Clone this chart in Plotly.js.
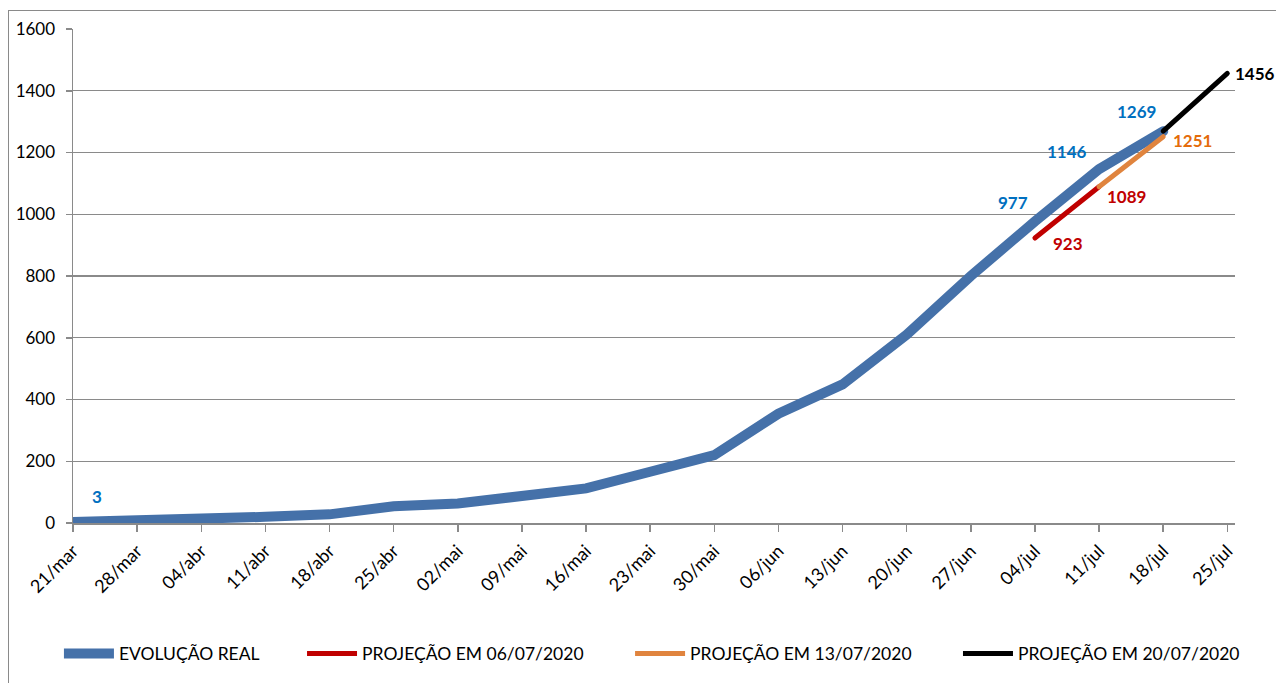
<!DOCTYPE html>
<html>
<head>
<meta charset="utf-8">
<script src="https://cdn.plot.ly/plotly-3.0.1.min.js"></script>
<style>
html,body{margin:0;padding:0;overflow:hidden;background:#fff;}
#chart{position:absolute;left:0;top:0;width:1276px;height:683px;}
#frame{position:absolute;left:8px;top:10px;width:1300px;height:720px;border:1.5px solid #8a8a8a;pointer-events:none;}
.scatterlayer path.js-line{stroke-linecap:round;}
</style>
</head>
<body>
<div id="chart"></div>
<div id="frame"></div>
<script>
const categories = ["21/mar","28/mar","04/abr","11/abr","18/abr","25/abr","02/mai","09/mai","16/mai","23/mai","30/mai","06/jun","13/jun","20/jun","27/jun","04/jul","11/jul","18/jul","25/jul"];
const realValues = [3, 6, 14, 20, 28, 54, 63, 84, 112, 166, 220, 354, 449, 610, 800, 977, 1146, 1269];
const proj0607Cats = ["04/jul","11/jul"];
const proj0607Vals = [923, 1089];
const proj1307Cats = ["11/jul","18/jul"];
const proj1307Vals = [1089, 1251];
const proj2007Cats = ["18/jul","25/jul"];
const proj2007Vals = [1269, 1456];
const seriesNames = ["EVOLUÇÃO REAL","PROJEÇÃO EM 06/07/2020","PROJEÇÃO EM 13/07/2020","PROJEÇÃO EM 20/07/2020"];
const yTicks = [0,200,400,600,800,1000,1200,1400,1600];

const FONT = "Lato, 'Open Sans', sans-serif";
const realCats = categories.slice(0, realValues.length);

const traces = [
  {x: realCats, y: realValues, name: seriesNames[0], mode: "lines", line: {color: "#4571A9", width: 10}, legend: "legend"},
  {x: proj0607Cats, y: proj0607Vals, name: seriesNames[1], mode: "lines", line: {color: "#C00000", width: 5}, legend: "legend2"},
  {x: proj1307Cats, y: proj1307Vals, name: seriesNames[2], mode: "lines", line: {color: "#E0843E", width: 5}, legend: "legend3"},
  {x: proj2007Cats, y: proj2007Vals, name: seriesNames[3], mode: "lines", line: {color: "#000000", width: 5}, legend: "legend4"}
];

function lbl(cat, val, color, dx, dy){
  return {x: cat, y: val, xref: "x", yref: "y", text: String(val), showarrow: false,
    xshift: dx, yshift: dy, font: {family: FONT, size: 17, color: color, weight: "bold"}};
}
const annotations = [
  lbl(realCats[0], realValues[0], "#0070C0", 24, 26),
  lbl(realCats[15], realValues[15], "#0070C0", -22, 19),
  lbl(realCats[16], realValues[16], "#0070C0", -32, 18),
  lbl(realCats[17], realValues[17], "#0070C0", -27, 20),
  lbl(proj0607Cats[0], proj0607Vals[0], "#C00000", 33, -5),
  lbl(proj0607Cats[1], proj0607Vals[1], "#C00000", 27, -10),
  lbl(proj1307Cats[1], proj1307Vals[1], "#E46C0A", 29, -4),
  lbl(proj2007Cats[1], proj2007Vals[1], "#000000", 28, 0)
];

function leg(x){
  return {orientation: "h", x: x, xanchor: "left", y: -0.262, yanchor: "middle",
    font: {family: FONT, size: 17.5, color: "#000"}, itemwidth: 50, bgcolor: "rgba(0,0,0,0)"};
}

const layout = {
  width: 1276, height: 683,
  margin: {l: 73, r: 41, t: 29, b: 159},
  paper_bgcolor: "#ffffff", plot_bgcolor: "#ffffff",
  font: {family: FONT, size: 17, color: "#000"},
  showlegend: true,
  legend: leg(-0.0121),
  legend2: leg(0.1971),
  legend3: leg(0.4794),
  legend4: leg(0.7616),
  xaxis: {type: "category", categoryorder: "array", categoryarray: categories,
    range: [0, 18.12], tickmode: "array", tickvals: categories, ticktext: categories,
    tickangle: -45, ticks: "outside", ticklen: 7, tickcolor: "#8a8a8a", tickwidth: 1.5,
    showline: true, linecolor: "#8a8a8a", linewidth: 1.5, showgrid: false, zeroline: false,
    tickfont: {family: FONT, size: 18, color: "#000"}, ticklabelstandoff: 2, fixedrange: true},
  yaxis: {range: [0, 1600], tickmode: "array", tickvals: yTicks, ticks: "outside", ticklen: 6,
    tickcolor: "#8a8a8a", tickwidth: 1.5, showline: true, linecolor: "#8a8a8a", linewidth: 1.5,
    showgrid: true, gridcolor: "#8a8a8a", gridwidth: 1.4, zeroline: false,
    tickfont: {family: FONT, size: 17, color: "#000"}, ticklabelstandoff: 7, fixedrange: true},
  annotations: annotations
};

Plotly.newPlot("chart", traces, layout, {displayModeBar: false, staticPlot: true});
</script>
</body>
</html>
